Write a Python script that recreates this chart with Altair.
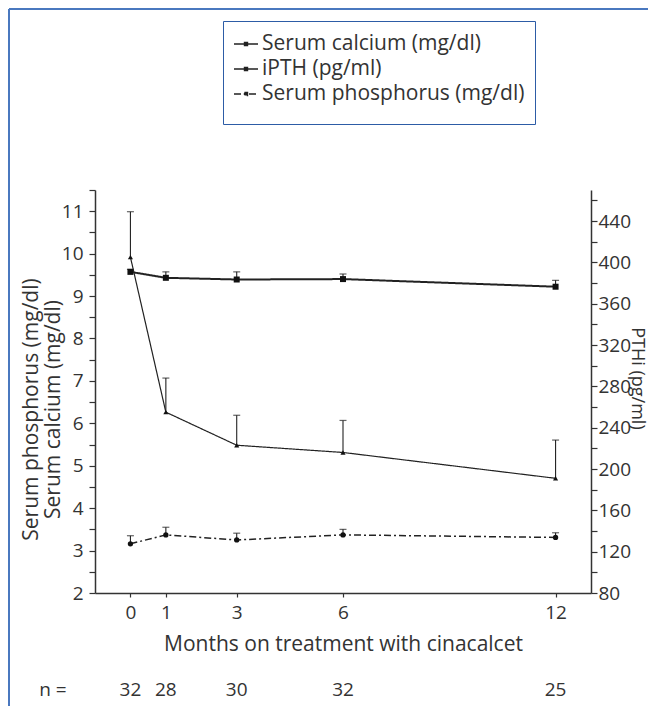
import altair as alt
import pandas as pd

# ---- data ----
months = [0, 1, 3, 6, 12]
n_patients = [32, 28, 30, 32, 25]
calcium = [9.57, 9.43, 9.39, 9.40, 9.22]
calcium_upper = [9.63, 9.57, 9.57, 9.52, 9.37]
phosphorus = [3.16, 3.37, 3.25, 3.37, 3.31]
phosphorus_upper = [3.35, 3.55, 3.41, 3.50, 3.42]
ipth = [405, 255, 223, 216, 191]
ipth_upper = [449, 288, 252, 247, 228]

series_names = ["Serum calcium (mg/dl)", "iPTH (pg/ml)", "Serum phosphorus (mg/dl)"]
left_ticks = [2 + 0.5 * i for i in range(20)]
right_ticks = [80 + 20 * i for i in range(20)]

left_df = pd.DataFrame({
    "month": months * 2,
    "value": calcium + phosphorus,
    "upper": calcium_upper + phosphorus_upper,
    "series": [series_names[0]] * 5 + [series_names[2]] * 5,
})
right_df = pd.DataFrame({
    "month": months,
    "value": ipth,
    "upper": ipth_upper,
    "series": [series_names[1]] * 5,
})
n_df = pd.DataFrame({"month": months, "n": n_patients})
one_df = pd.DataFrame({"a": [0]})

FONT = "Open Sans"
INK = "#222222"
TXT = "#333333"

x_scale = alt.Scale(domain=[-1, 13], nice=False, zero=False)
x_axis = alt.Axis(values=months, title="Months on treatment with cinacalcet",
                  tickSize=4, labelPadding=6, titlePadding=11)
X = alt.X("month:Q", scale=x_scale, axis=x_axis)

left_scale = alt.Scale(domain=[2, 11.5], nice=False, zero=False)
left_axis = alt.Axis(values=left_ticks,
                     labelExpr="datum.value % 1 == 0 ? format(datum.value, 'd') : ''",
                     title=["Serum phosphorus (mg/dl)", "Serum calcium (mg/dl)"],
                     titleLineHeight=22, titleX=-64, titleY=219,
                     titleBaseline="middle", titleAlign="center",
                     tickSize=6, labelPadding=6)
right_scale = alt.Scale(domain=[80, 470], nice=False, zero=False)
right_axis = alt.Axis(values=right_ticks, orient="right",
                      labelExpr="datum.value % 40 == 0 ? format(datum.value, 'd') : ''",
                      title="PTHi (pg/ml)", titleX=45, titleY=188, titleFontSize=18,
                      titleBaseline="middle", titleAlign="center",
                      tickSize=6, labelPadding=1)

dash_scale = alt.Scale(domain=series_names, range=[[1, 0], [1, 0], [7, 3, 2, 3]])
legend_symbol = "M-1,0L1,0M-0.13,-0.13L0.13,-0.13L0.13,0.13L-0.13,0.13Z"
legend = alt.Legend(
    title=" ", titleOrient="bottom", titleFontSize=9, titlePadding=1,
    orient="none", legendX=128, legendY=-169,
    strokeColor="#2d5ca6", padding=10,
    labelFont=FONT, labelFontSize=21, labelColor=TXT, labelLimit=600, labelOffset=3,
    symbolType=legend_symbol, symbolSize=576, symbolStrokeWidth=1.3,
    symbolStrokeColor=INK, symbolFillColor=INK, rowPadding=2,
)


def series_layers(df, name, y_scale, y_axis, shape, size, width):
    base = alt.Chart(df).transform_filter(alt.datum.series == name)
    Y = alt.Y("value:Q", scale=y_scale, axis=y_axis)
    line = base.mark_line(color=INK, strokeWidth=width).encode(
        x=X, y=Y,
        strokeDash=alt.StrokeDash("series:N", scale=dash_scale, legend=legend),
    )
    err = base.mark_rule(color=INK, strokeWidth=1.1).encode(x=X, y=Y, y2="upper:Q")
    cap = base.mark_tick(orient="horizontal", size=7, thickness=1.2, color=INK).encode(
        x=X, y=alt.Y("upper:Q", scale=y_scale, axis=y_axis))
    pts = base.mark_point(filled=True, shape=shape, size=size, color="#111111", opacity=1).encode(x=X, y=Y)
    return [line, err, cap, pts]


calc_layers = series_layers(left_df, series_names[0], left_scale, left_axis, "square", 36, 2.0)
phos_layers = series_layers(left_df, series_names[2], left_scale, left_axis, "circle", 28, 1.5)
ipth_layers = series_layers(right_df, series_names[1], right_scale, right_axis, "triangle-up", 26, 1.2)

n_text = alt.Chart(n_df).mark_text(font=FONT, fontSize=19, color=TXT, baseline="middle").encode(
    x=X, y=alt.value(500), text="n:Q")
n_label = alt.Chart(one_df).mark_text(font=FONT, fontSize=19, color=TXT, baseline="middle").encode(
    x=alt.value(-42), y=alt.value(500), text=alt.value("n ="))

frame_left = alt.Chart(one_df).mark_rule(color="#4a78bf", strokeWidth=2).encode(
    x=alt.value(-86), y=alt.value(-181), y2=alt.value(520))
frame_top = alt.Chart(one_df).mark_rule(color="#4a78bf", strokeWidth=2).encode(
    x=alt.value(-86), x2=alt.value(560), y=alt.value(-181))

left = alt.layer(*calc_layers, *phos_layers, n_text, n_label, frame_left, frame_top)
right = alt.layer(*ipth_layers)

chart = alt.layer(left, right).resolve_scale(y="independent").properties(
    width=496, height=403,
    autosize=alt.AutoSizeParams(type="none"),
    padding={"left": 87, "top": 182, "right": 57, "bottom": 113},
    background="white",
).configure_view(stroke=None).configure_axis(
    labelFont=FONT, titleFont=FONT, labelFontSize=19, titleFontSize=21,
    titleFontWeight="normal", labelColor=TXT, titleColor=TXT,
    domainColor=TXT, tickColor=TXT, domainWidth=1.5, tickWidth=1.2, grid=False,
)

chart.save("out.html", embed_options={"renderer": "svg", "actions": False})
